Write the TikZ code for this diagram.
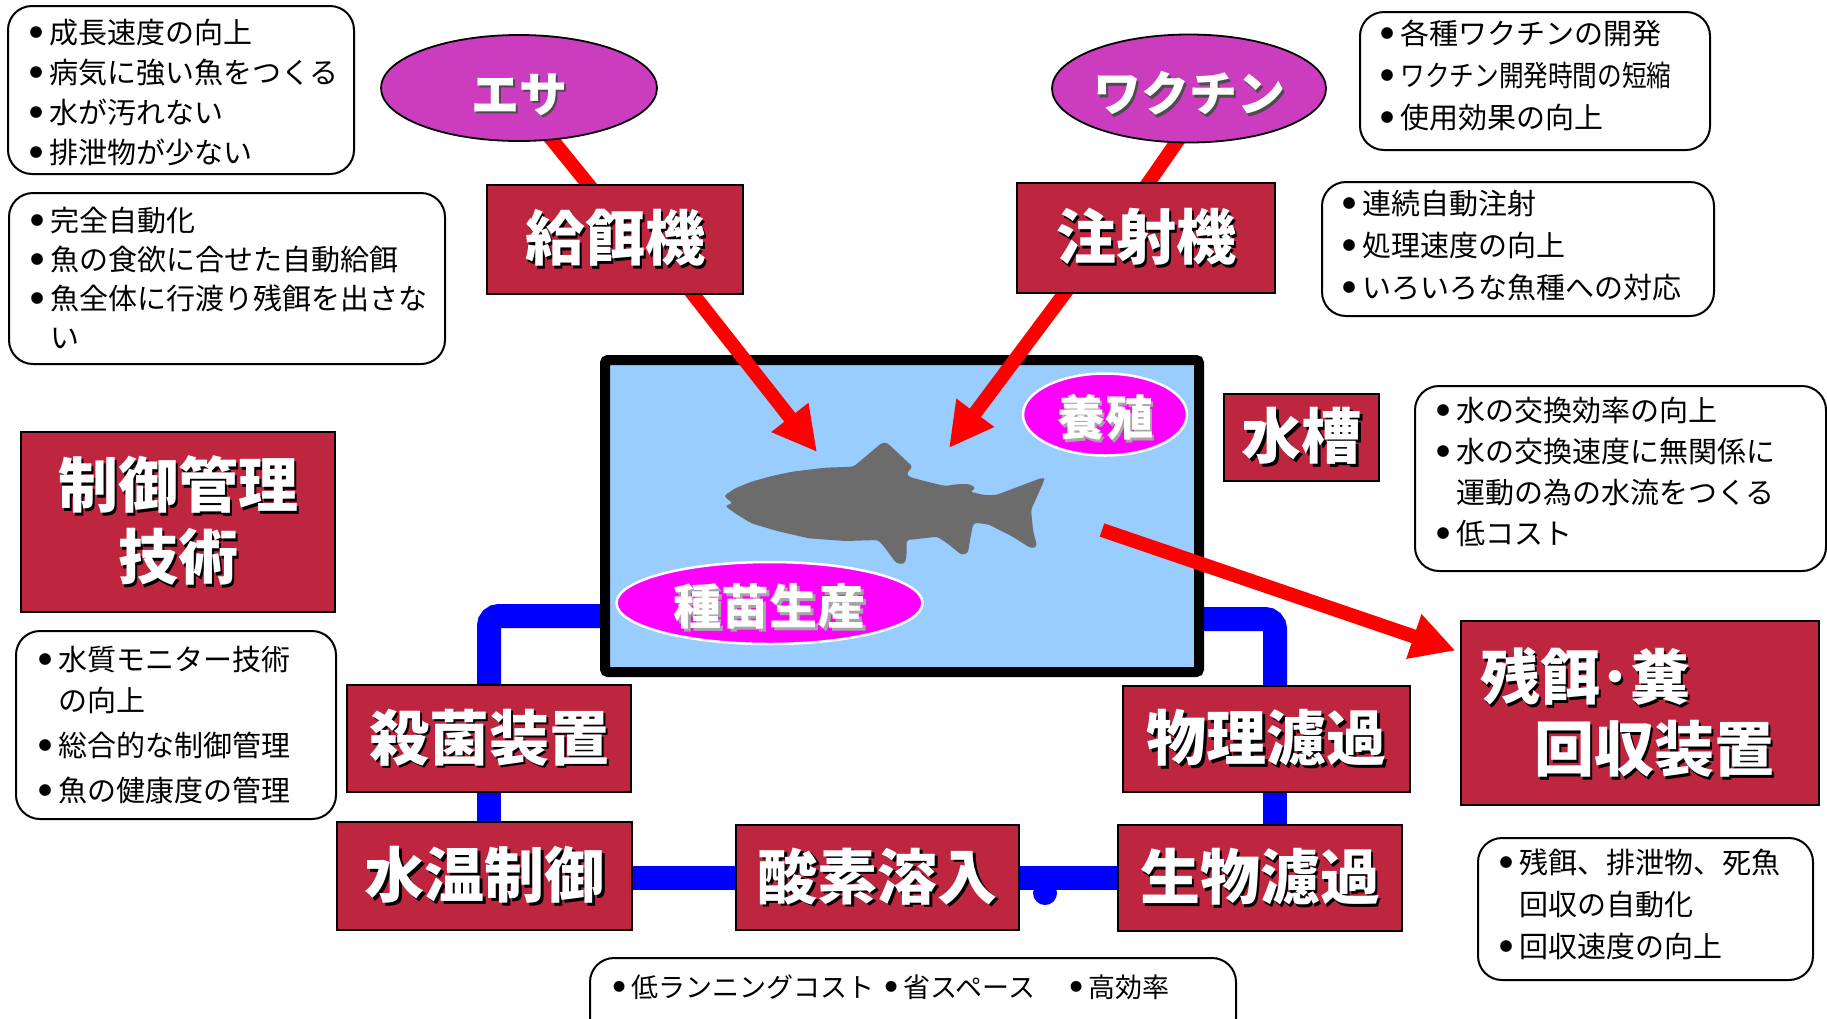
\documentclass[tikz,border=0pt]{standalone}
\usepackage{fontspec}
\usepackage{graphicx}
\setmainfont{Noto Sans CJK JP}
\usetikzlibrary{shapes.geometric,arrows.meta,calc}

\definecolor{boxred}{RGB}{190,38,64}
\definecolor{esapurple}{RGB}{204,60,190}
\definecolor{tankblue}{RGB}{153,204,255}
\definecolor{fishgrey}{RGB}{108,108,108}
\definecolor{pipeblue}{RGB}{0,0,255}
\definecolor{arrowred}{RGB}{255,0,0}
\definecolor{brightpink}{RGB}{255,0,255}

\pgfdeclarelayer{pipes}
\pgfdeclarelayer{tanklayer}
\pgfdeclarelayer{links}
\pgfsetlayers{pipes,tanklayer,links,main}

% white text with an offset drop shadow
\newcommand\shd[2][black]{\rlap{\kern2.5pt\raisebox{-2.5pt}{\textcolor{#1}{#2}}}#2}
% ellipse label: baseline lowered by #1 below the node centre
\newcommand\ellabel[3]{\raisebox{-#1}[0pt][0pt]{\shd[#2]{#3}}}
% list bullet and hanging indent
\newcommand\bu{\makebox[0.68em][l]{\raisebox{0.21em}{\scalebox{0.45}{●}}}}
\newcommand\contind{\hspace*{0.68em}}
\newcommand\topstrut{\rule{0pt}{26pt}}

\tikzset{
  redbox/.style={draw=black, line width=1.6pt, fill=boxred, text=white, inner sep=0pt,
    align=center, font=\fontsize{60pt}{72pt}\selectfont\bfseries},
  outerellipse/.style={ellipse, draw=black, line width=1.8pt, fill=esapurple, text=white,
    inner sep=0pt, font=\fontsize{48pt}{50pt}\selectfont\bfseries},
  innerellipse/.style={ellipse, draw=white, line width=2.5pt, fill=brightpink, text=white,
    inner sep=0pt, font=\fontsize{48pt}{50pt}\selectfont\bfseries},
  notebox/.style={draw=black, line width=2pt, fill=white, rounded corners=24pt, inner sep=0pt},
  notetext/.style={anchor=north west, inner sep=0pt, align=left},
  pipe/.style={draw=pipeblue, line width=24pt},
  feed/.style={draw=arrowred, line width=14pt},
  feedarrow/.style={feed, -{Triangle[length=44pt,width=44pt]}},
}

\begin{document}
\begin{tikzpicture}[x=1pt,y=-1pt]
\useasboundingbox (0,0) rectangle (1827,1018);

% ---------- tank with fish ----------
\begin{pgfonlayer}{tanklayer}
\node[draw=black, line width=10pt, fill=tankblue, rounded corners=3pt, inner sep=0pt,
      minimum width=594pt, minimum height=312pt] (tank) at (902,516) {};
\fill[fishgrey, rounded corners=3pt]
  (723.7,496) -- (735.1,488.3) -- (751.4,481.7) -- (771.8,476) -- (792.2,471.7)
  -- (824.9,467.7) -- (853.5,466.7) -- (882,442.7) -- (887,442.7) -- (912.7,466.7)
  -- (906.5,473.3) -- (908.6,476.7) -- (927,481.7) -- (945.3,486) -- (955.5,484.3)
  -- (969.8,484) -- (975.9,488.3) -- (969.8,491.7) -- (984,495) -- (996.3,495)
  -- (1020.8,485.7) -- (1043.3,477.3) -- (1044.5,480) -- (1031,510) -- (1033,530)
  -- (1037.1,546.7) -- (1031,548.3) -- (1012.7,536.7) -- (988.2,524.3) -- (973.9,522.7)
  -- (971.8,530) -- (967.8,553.3) -- (961.6,555) -- (947.3,543.3) -- (937.1,536.7)
  -- (914.7,539.3) -- (906.5,540) -- (906.5,556.7) -- (904.5,564) -- (896.3,563.3)
  -- (884.1,546.7) -- (878,540) -- (845.3,541) -- (808.6,538.3) -- (775.9,530.7)
  -- (751.4,523.3) -- (735.1,513.3) -- (724.9,505.7) -- (733,503.3) -- cycle;
\node[innerellipse, minimum width=164pt, minimum height=82pt] (culture) at (1105,414.5) {\ellabel{21pt}{black!35}{養殖}};
\node[innerellipse, minimum width=306pt, minimum height=82pt] (seed) at (769.5,603) {\ellabel{21.5pt}{black!35}{種苗生産}};
\end{pgfonlayer}

% ---------- red boxes ----------
\node[redbox, minimum width=256pt, minimum height=109pt] (feeder) at (615,239.5) {\shd{給餌機}};
\node[redbox, minimum width=258pt, minimum height=110pt] (inj) at (1146,238) {\shd{注射機}};
\node[redbox, minimum width=314pt, minimum height=180pt] (ctrl) at (178,522) {\shd{制御管理}\\\shd{技術}};
\node[redbox, minimum width=155pt, minimum height=87pt] (tanklabel) at (1301.5,437.5) {\shd{水槽}};
\node[redbox, minimum width=358pt, minimum height=184pt] (trap) at (1640,713) {};
\node[anchor=west, inner sep=0pt, align=left, text=white, font=\fontsize{60pt}{72pt}\selectfont\bfseries]
  (traptext) at (1480,714) {\shd{残餌･糞}\\\hspace*{54pt}\shd{回収装置}};
\node[redbox, minimum width=284pt, minimum height=107pt] (steril) at (489,738.5) {\shd{殺菌装置}};
\node[redbox, minimum width=287pt, minimum height=106pt] (physf) at (1266.5,739) {\shd{物理濾過}};
\node[redbox, minimum width=295pt, minimum height=108pt] (wtemp) at (484.5,876) {\shd{水温制御}};
\node[redbox, minimum width=283pt, minimum height=105pt] (oxy) at (877.5,877.5) {\shd{酸素溶入}};
\node[redbox, minimum width=284pt, minimum height=106pt] (biof) at (1260,878) {\shd{生物濾過}};

% ---------- purple ellipses ----------
\node[outerellipse, minimum width=276pt, minimum height=106pt] (esa) at (519,88) {\ellabel{24pt}{black!70}{エサ}};
\node[outerellipse, minimum width=274pt, minimum height=108pt] (vac) at (1189,88.5) {\ellabel{23pt}{black!70}{ワクチン}};

% ---------- water circulation pipes ----------
\begin{pgfonlayer}{pipes}
\fill[white] (0,0) rectangle (1827,1018);
\coordinate (pl) at (489,616);
\coordinate (pr) at (1275,619);
\coordinate (ph) at (0,878);
\draw[pipe, rounded corners=10pt] (tank.west |- pl) -| (steril.north -| pl);
\draw[pipe] (steril.south -| pl) -- (wtemp.north -| pl);
\draw[pipe, rounded corners=10pt] (tank.east |- pr) -| (physf.north -| pr);
\draw[pipe] (physf.south -| pr) -- (biof.north -| pr);
\draw[pipe] (wtemp.east |- ph) -- (oxy.west |- ph);
\draw[pipe] (oxy.east |- ph) -- (biof.west |- ph);
\coordinate (joint) at (1045,893);
\fill[pipeblue] (joint) circle (12pt);
\end{pgfonlayer}

% ---------- red links and arrows ----------
\begin{pgfonlayer}{links}
\coordinate (fa) at (674,270);
\coordinate (fb) at (817,452);
\coordinate (ia) at (1082,270);
\coordinate (ib) at (949,448);
\coordinate (ta) at (1102,530);
\draw[feed] ([xshift=-9pt]esa.center) -- ([xshift=18pt]feeder.center);
\draw[feed] ([xshift=25pt]vac.center) -- ([xshift=-36pt]inj.center);
\draw[feedarrow] (fa) -- (fb);
\draw[feedarrow] (ia) -- (ib);
\draw[feedarrow, shorten >=5pt] (ta) -- (trap);
\end{pgfonlayer}

% ---------- notes ----------
\node[notebox, minimum width=346pt, minimum height=168pt] (n1) at (181,90) {};
\node[notetext, font=\fontsize{29pt}{40pt}\selectfont] (n1t) at (29.5,17)
  {\topstrut\bu 成長速度の向上\\\bu 病気に強い魚をつくる\\\bu 水が汚れない\\\bu 排泄物が少ない};

\node[notebox, minimum width=436pt, minimum height=171pt] (n2) at (227,278.5) {};
\node[notetext, font=\fontsize{29pt}{39pt}\selectfont] (n2t) at (30.5,205)
  {\topstrut\bu 完全自動化\\\bu 魚の食欲に合せた自動給餌\\\bu 魚全体に行渡り残餌を出さな\\\contind い};

\node[notebox, minimum width=350pt, minimum height=138pt] (n3) at (1535,81) {};
\node[notetext, font=\fontsize{29pt}{42pt}\selectfont] (n3t) at (1380.5,18)
  {\topstrut\bu 各種ワクチンの開発\\\bu \scalebox{0.85}[1]{ワクチン開発時間の短縮}\\\bu 使用効果の向上};

\node[notebox, minimum width=392pt, minimum height=134pt] (n4) at (1518,249) {};
\node[notetext, font=\fontsize{29pt}{42pt}\selectfont] (n4t) at (1342.5,188)
  {\topstrut\bu 連続自動注射\\\bu 処理速度の向上\\\bu いろいろな魚種への対応};

\node[notebox, minimum width=411pt, minimum height=185pt] (n5) at (1620.5,478.5) {};
\node[notetext, font=\fontsize{29pt}{41pt}\selectfont] (n5t) at (1436.5,395)
  {\topstrut\bu 水の交換効率の向上\\\bu 水の交換速度に無関係に\\\contind 運動の為の水流をつくる\\\bu 低コスト};

\node[notebox, minimum width=320pt, minimum height=188pt] (n6) at (176,725) {};
\node[notetext, font=\fontsize{29pt}{41pt}\selectfont] (n6t) at (38.5,644)
  {\topstrut\bu 水質モニター技術\\\contind の向上\\[4pt]\bu 総合的な制御管理\\[4pt]\bu 魚の健康度の管理};

\node[notebox, minimum width=335pt, minimum height=142pt] (n7) at (1645.5,909) {};
\node[notetext, font=\fontsize{29pt}{42pt}\selectfont] (n7t) at (1499.5,847)
  {\topstrut\bu 残餌、排泄物、死魚\\\contind 回収の自動化\\\bu 回収速度の向上};

\node[notebox, minimum width=646pt, minimum height=84pt] (n8) at (913,1000) {};
\node[notetext, font=\fontsize{27pt}{36pt}\selectfont] (n8t) at (613,971)
  {\topstrut\makebox[272pt][l]{\bu 低ランニングコスト}\makebox[185pt][l]{\bu 省スペース}\bu 高効率};

\end{tikzpicture}
\end{document}
